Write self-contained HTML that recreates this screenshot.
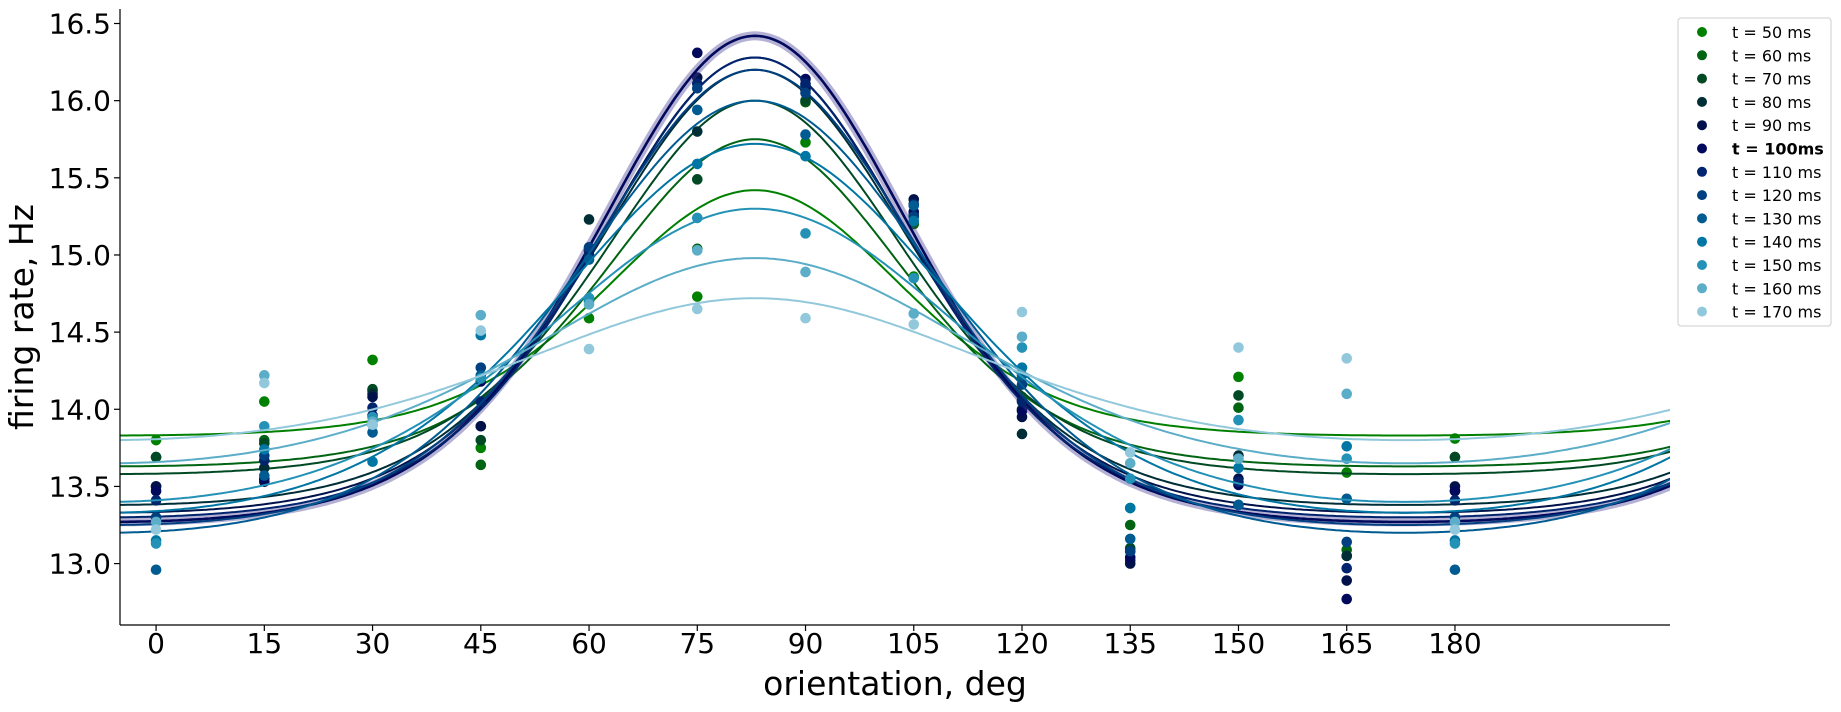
<!DOCTYPE html>
<html><head><meta charset="utf-8"><style>
body{margin:0;background:#fff;}
svg{display:block;font-family:"DejaVu Sans","Liberation Sans",sans-serif;}
</style></head><body>
<svg id="chart" width="1841" height="712"></svg>
<script>
const angles=[0,15,30,45,60,75,90,105,120,135,150,165,180];
const times=[50,60,70,80,90,100,110,120,130,140,150,160,170];
const xTicks=[0,15,30,45,60,75,90,105,120,135,150,165,180];
const yTicks=[13.0,13.5,14.0,14.5,15.0,15.5,16.0,16.5];
// fitted curve parameters per time
const peaks=[15.42,15.75,16.0,16.2,16.28,16.42,16.28,16.2,16.0,15.72,15.3,14.98,14.72];
const troughs=[13.83,13.63,13.58,13.38,13.33,13.27,13.3,13.25,13.2,13.33,13.4,13.65,13.8];
const kappas=[2.0,2.0,2.0,1.8,1.8,1.8,1.8,1.6,1.3,1.1,0.9,0.8,0.7];
const prefOri=83;
// observed rates, one array per angle, entries ordered by time
const r0=[13.80,13.69,13.69,13.50,13.50,13.47,13.41,13.30,12.96,13.15,13.13,13.27,13.22];
const r15=[14.05,13.80,13.78,13.62,13.53,13.55,13.67,13.70,13.57,13.74,13.89,14.22,14.17];
const r30=[14.32,14.12,14.13,14.10,14.08,13.96,14.01,13.90,13.85,13.66,13.95,13.92,13.90];
const r45=[13.75,13.64,13.80,13.89,13.89,14.18,14.05,14.27,14.22,14.48,14.20,14.61,14.51];
const r60=[14.59,14.72,15.03,15.23,15.03,14.99,15.00,15.05,14.97,14.70,14.72,14.68,14.39];
const r75=[14.73,15.04,15.49,15.80,16.15,16.31,16.11,16.08,15.94,15.59,15.24,15.03,14.65];
const r90=[15.73,15.99,16.00,16.10,16.07,16.14,16.11,16.05,15.78,15.64,15.14,14.89,14.59];
const r105=[14.86,15.20,15.25,15.26,15.36,15.28,15.33,15.25,15.32,15.22,14.85,14.62,14.55];
const r120=[14.08,14.06,14.00,13.84,13.95,13.99,14.05,14.16,14.22,14.27,14.40,14.47,14.63];
const r135=[13.36,13.25,13.10,13.02,13.00,13.04,13.08,13.08,13.16,13.36,13.55,13.65,13.72];
const r150=[14.21,14.01,14.09,13.70,13.55,13.51,13.53,13.38,13.38,13.62,13.93,13.68,14.40];
const r165=[13.59,13.09,13.05,13.05,12.89,12.77,12.97,13.14,13.42,13.76,13.68,14.10,14.33];
const r180=[13.81,13.69,13.69,13.47,13.50,13.47,13.41,13.30,12.96,13.15,13.13,13.27,13.22];
const rates=[r0,r15,r30,r45,r60,r75,r90,r105,r120,r135,r150,r165,r180];

const NS="http://www.w3.org/2000/svg";
const svg=document.getElementById('chart');
const L=120,R=1670,T=9,B=625;
const xMin=-5,xMax=209.8,yMin=12.602,yMax=16.594;
const X=v=>L+(v-xMin)/(xMax-xMin)*(R-L);
const Y=v=>B-(v-yMin)/(yMax-yMin)*(B-T);
function mk(tag,attrs,parent){const e=document.createElementNS(NS,tag);for(const k in attrs)e.setAttribute(k,attrs[k]);(parent||svg).appendChild(e);return e;}
function color(i){const x=i/14;const r=Math.max(0,3*x-2),g=Math.abs((3*x-1)/2),b=x;return `rgb(${Math.round(r*255)},${Math.round(g*255)},${Math.round(b*255)})`;}
function fit(i,th){const k=kappas[i];const a=(peaks[i]-troughs[i])/(1-Math.exp(-2*k));const b=peaks[i]-a;return b+a*Math.exp(k*(Math.cos(2*(th-prefOri)*Math.PI/180)-1));}

const defs=mk('defs',{});
const cp=mk('clipPath',{id:'clip'},defs);mk('rect',{x:L,y:T,width:R-L,height:B-T},cp);
const plot=mk('g',{'clip-path':'url(#clip)'});



times.forEach((t,i)=>{
  const col=color(i);
  const g=mk('g',{},plot);
  
  
  angles.forEach((a,j)=>{
    const c=mk('circle',{cx:X(a),cy:Y(rates[j][i]),r:5.3,fill:col},g);
    
    
  });
  let d='';
  for(let th=xMin;th<=xMax+0.5;th+=0.5){d+=(d?'L':'M')+X(th).toFixed(1)+','+Y(fit(i,th)).toFixed(1);}
  if(t===100){
    const h=mk('path',{d:d,fill:'none',stroke:'rgba(70,60,150,0.4)','stroke-width':9},g);
    
    
  }
  const p=mk('path',{d:d,fill:'none',stroke:col,'stroke-width':t===100?2.6:2},g);
  
  
});

// axes
const ax=mk('g',{});


mk('line',{x1:L,y1:T,x2:L,y2:B,stroke:'#000','stroke-width':1.2},ax);
mk('line',{x1:L,y1:B,x2:R,y2:B,stroke:'#000','stroke-width':1.2},ax);
xTicks.forEach(v=>{
  mk('line',{x1:X(v),y1:B,x2:X(v),y2:B+6,stroke:'#000','stroke-width':1.2},ax);
  const tx=mk('text',{x:X(v),y:653,'font-size':28,'text-anchor':'middle',fill:'#000'},ax);
  tx.textContent=v;
  
  
});
yTicks.forEach(v=>{
  mk('line',{x1:L-6,y1:Y(v),x2:L,y2:Y(v),stroke:'#000','stroke-width':1.2},ax);
  const tx=mk('text',{x:111,y:Y(v)+10,'font-size':28,'text-anchor':'end',fill:'#000'},ax);
  tx.textContent=v.toFixed(1);
  
  
});
const xl=mk('text',{x:895,y:695,'font-size':33,'text-anchor':'middle',fill:'#000'});
xl.textContent='orientation, deg';


const yl=mk('text',{x:0,y:0,'font-size':33,'text-anchor':'middle',fill:'#000',transform:'translate(33,317) rotate(-90)'});
yl.textContent='firing rate, Hz';



// legend
const lg=mk('g',{});


mk('rect',{x:1678,y:18,width:153,height:308,rx:3,fill:'#fff',stroke:'#ccc','stroke-width':1},lg);
times.forEach((t,i)=>{
  const y=32+i*23.3;
  const e=mk('g',{},lg);
  
  
  mk('circle',{cx:1702,cy:y,r:5,fill:color(i)},e);
  const tx=mk('text',{x:1732,y:y+6,'font-size':16,fill:'#000','font-weight':t===100?'bold':'normal'},e);
  tx.textContent=t===100?'t = 100ms':'t = '+t+' ms';
});
</script>
</body></html>
